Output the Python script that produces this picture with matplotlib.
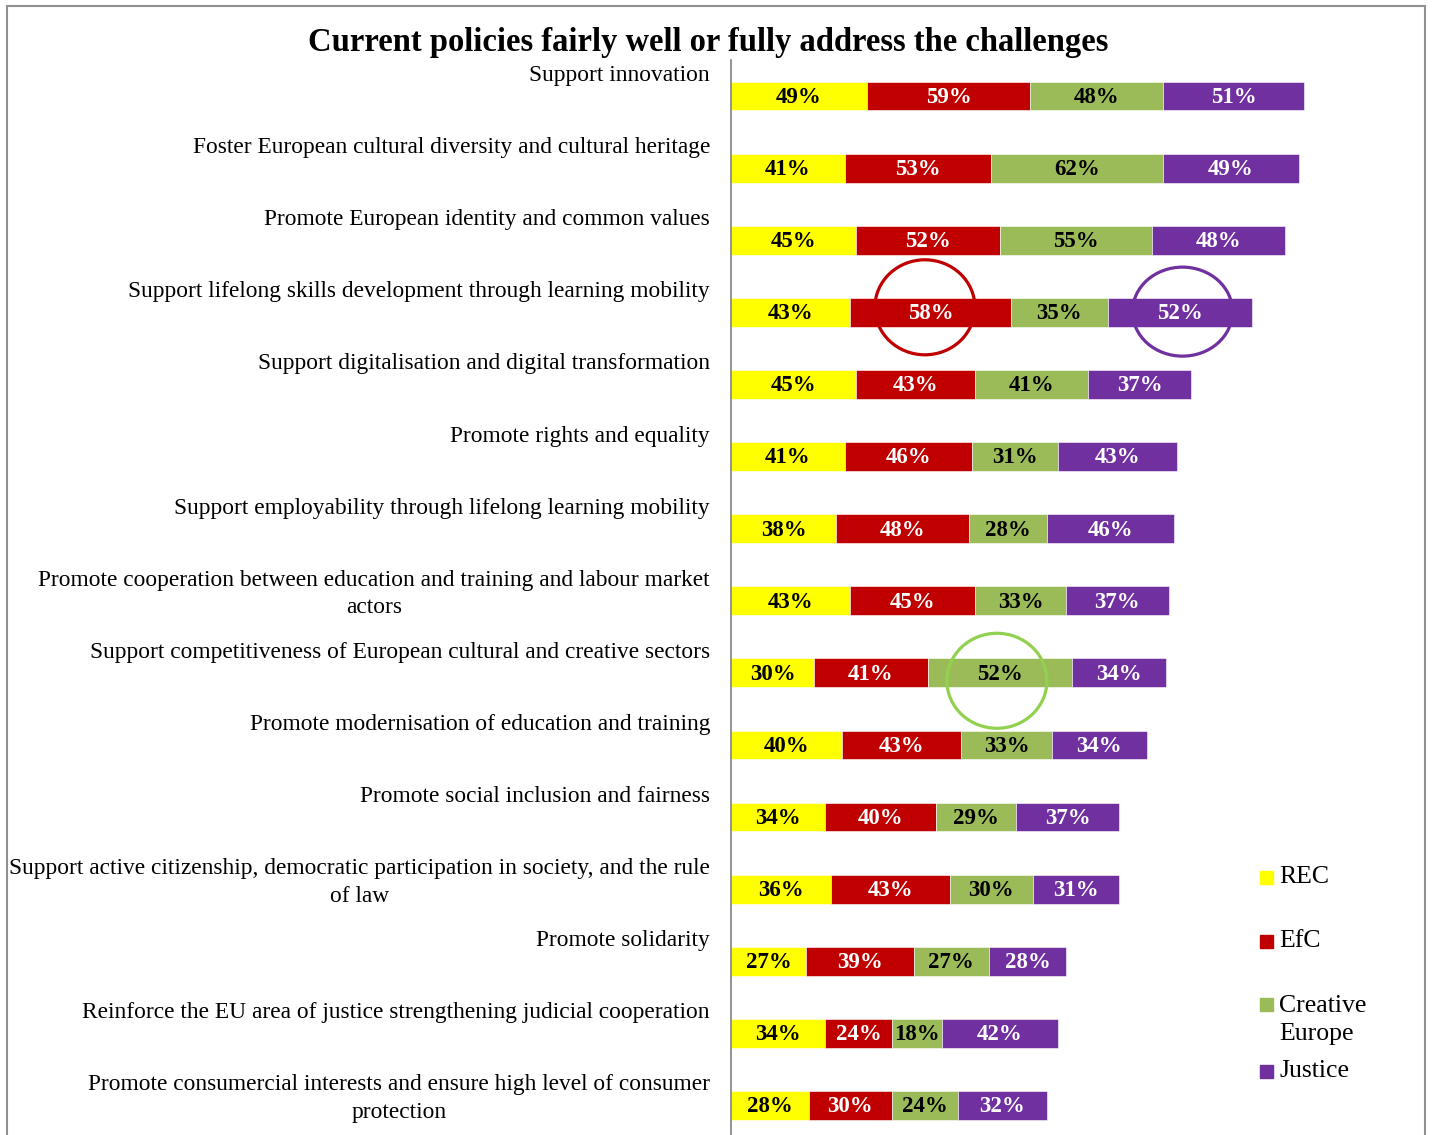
import numpy as np
import matplotlib.pyplot as plt
import matplotlib.patches as shapes

plt.rcParams['font.family'] = ['Liberation Serif', 'DejaVu Serif']

categories = [
    "Support innovation",
    "Foster European cultural diversity and cultural heritage",
    "Promote European identity and common values",
    "Support lifelong skills development through learning mobility",
    "Support digitalisation and digital transformation",
    "Promote rights and equality",
    "Support employability through lifelong learning mobility",
    "Promote cooperation between education and training and labour market\nactors",
    "Support competitiveness of European cultural and creative sectors",
    "Promote modernisation of education and training",
    "Promote social inclusion and fairness",
    "Support active citizenship, democratic participation in society, and the rule\nof law",
    "Promote solidarity",
    "Reinforce the EU area of justice strengthening judicial cooperation",
    "Promote consumercial interests and ensure high level of consumer\nprotection",
]
series = ["REC", "EfC", "Creative\nEurope", "Justice"]
rec = [49, 41, 45, 43, 45, 41, 38, 43, 30, 40, 34, 36, 27, 34, 28]
efc = [59, 53, 52, 58, 43, 46, 48, 45, 41, 43, 40, 43, 39, 24, 30]
creative = [48, 62, 55, 35, 41, 31, 28, 33, 52, 33, 29, 30, 27, 18, 24]
justice = [51, 49, 48, 52, 37, 43, 46, 37, 34, 34, 37, 31, 28, 42, 32]
# highlighted cells: (row, series index)
highlights = [(3, 1), (3, 3), (8, 2)]

colors = ['#FFFF00', '#C00000', '#9BBB59', '#7030A0']
text_colors = ['black', 'white', 'black', 'white']
circle_colors = ['#C00000', '#C00000', '#92D050', '#7030A0']

W, H = 1433, 1135
fig = plt.figure(figsize=(W / 100, H / 100), dpi=100)

# axes: left edge at 731 px, rows from 60 px down, 72 px per row
px_per_pct = 2.77
row_px = 72.1
ax_left, ax_right = 731, 1425
ax_top = 60
ax_bottom = ax_top + row_px * len(categories)
ax = fig.add_axes([ax_left / W, (H - ax_bottom) / H,
                   (ax_right - ax_left) / W, (ax_bottom - ax_top) / H])
ax.set_xlim(0, (ax_right - ax_left) / px_per_pct)
ax.set_ylim(len(categories) - 0.5, -0.5)

data = np.array([rec, efc, creative, justice], dtype=float)
y = np.arange(len(categories))
left = np.zeros(len(categories))
for k in range(4):
    ax.barh(y, data[k], left=left, height=0.4, color=colors[k],
            edgecolor='white', linewidth=0.4)
    for i in range(len(categories)):
        ax.text(left[i] + data[k][i] / 2, y[i] + 0.02, f"{int(data[k][i])}%",
                ha='center', va='center', fontsize=16.5, fontweight='bold',
                color=text_colors[k])
    left += data[k]

# hand-drawn looking circles around highlighted segments (small nudges, size in px)
nudges = [(-2, -0.07, 100, 95), (1, -0.01, 100, 89), (-1, 0.11, 100, 95)]
starts = np.vstack([np.zeros(len(categories)), np.cumsum(data, axis=0)[:-1]])
for (r, k), (dx, dy, w, h) in zip(highlights, nudges):
    cx = starts[k][r] + data[k][r] / 2
    circ = shapes.Ellipse((cx + dx, r + dy), width=w / px_per_pct,
                          height=h / row_px, fill=False,
                          edgecolor=circle_colors[k], linewidth=2.3)
    ax.add_patch(circ)

# category labels above each bar, right-aligned to the axis
for i, c in enumerate(categories):
    ax.annotate(c, xy=(0, i - 0.43), xytext=(-21, 0), textcoords='offset pixels',
                ha='right', va='top', multialignment='center', fontsize=16.8,
                linespacing=1.4, annotation_clip=False)

for s in ['top', 'right', 'bottom']:
    ax.spines[s].set_visible(False)
ax.spines['left'].set_color('#808080')
ax.spines['left'].set_linewidth(1.2)
ax.set_xticks([])
ax.set_yticks([])
ax.patch.set_alpha(0)

fig.text(708 / W, 1 - 42 / H, "Current policies fairly well or fully address the challenges",
         ha='center', va='center', fontsize=23.5, fontweight='bold')

# legend
leg_y = [877, 941, 1020, 1071]
for k, lab in enumerate(series):
    first = leg_y[k] - (16 if '\n' in lab else 0)
    fig.patches.append(shapes.Rectangle((1260 / W, 1 - (first + 6.5) / H), 13 / W, 13 / H,
                                        transform=fig.transFigure, color=colors[k]))
    fig.text(1279 / W, 1 - leg_y[k] / H, lab, ha='left', va='center', fontsize=18.5,
             linespacing=1.35)

# outer frame
fig.patches.append(shapes.Rectangle((7 / W, -0.01), 1418 / W, 1 - 6 / H + 0.01,
                                    transform=fig.transFigure, fill=False,
                                    edgecolor='#909090', linewidth=1.5))

fig.savefig('out.png', dpi=100)
